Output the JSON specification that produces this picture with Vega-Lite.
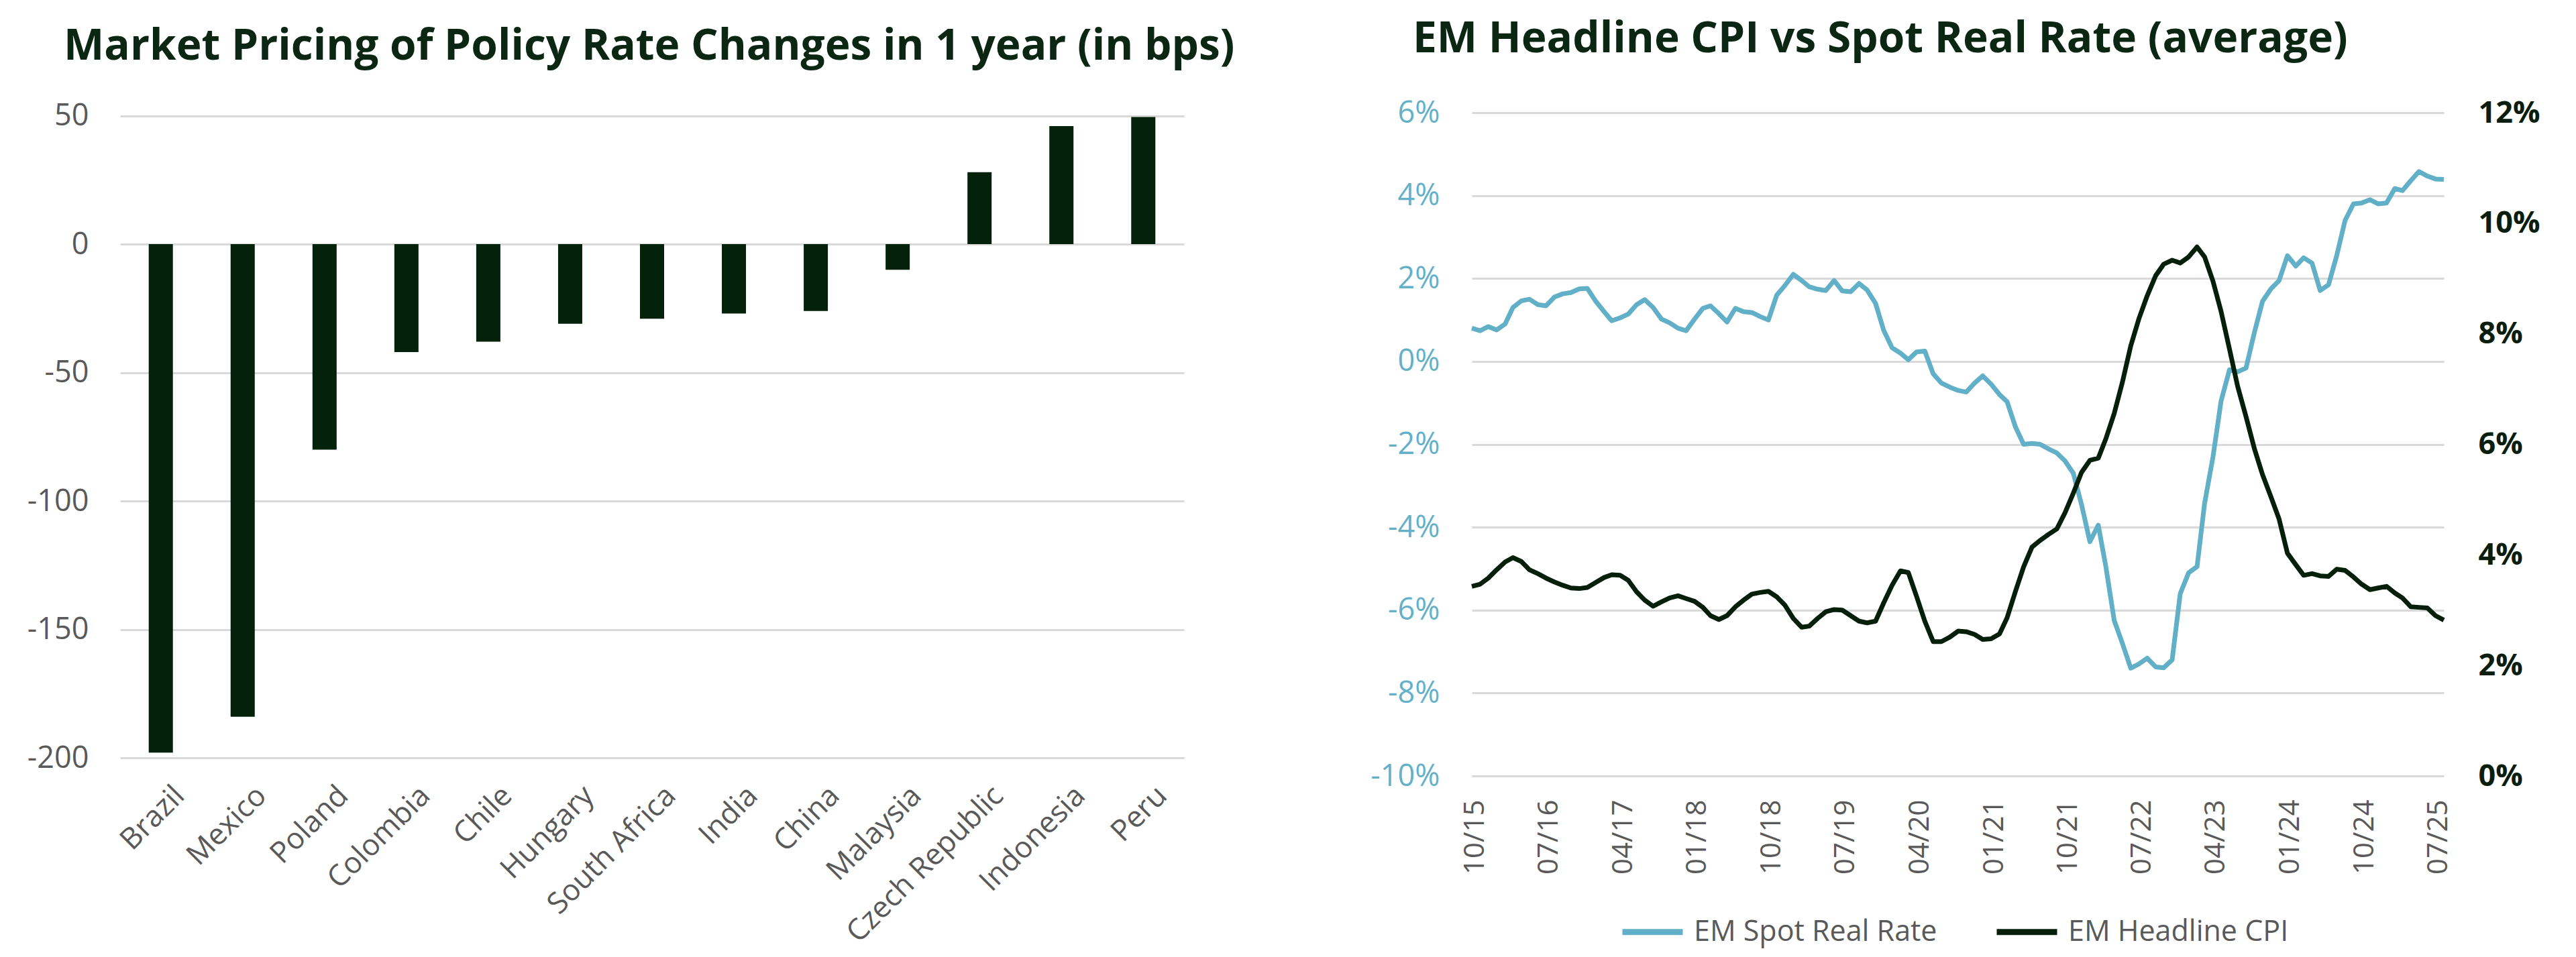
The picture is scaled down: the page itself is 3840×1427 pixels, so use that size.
{
  "$schema": "https://vega.github.io/schema/vega-lite/v6.json",
  "background": "white",
  "padding": {"left": 0, "top": 27, "right": 0, "bottom": 12},
  "bounds": "flush",
  "spacing": 429,
  "config": {
    "font": "Open Sans",
    "view": {"stroke": null},
    "axis": {"grid": false, "domain": false, "ticks": false, "labelFont": "Open Sans", "titleFont": "Open Sans"},
    "title": {"font": "Open Sans", "fontWeight": "bold", "fontSize": 64, "color": "#0b2612", "anchor": "start", "baseline": "alphabetic", "frame": "group"},
    "legend": {"labelFont": "Open Sans"}
  },
  "datasets": {
    "policy": [
      {"country": "Brazil", "bps": -198},
      {"country": "Mexico", "bps": -184},
      {"country": "Poland", "bps": -80},
      {"country": "Colombia", "bps": -42},
      {"country": "Chile", "bps": -38},
      {"country": "Hungary", "bps": -31},
      {"country": "South Africa", "bps": -29},
      {"country": "India", "bps": -27},
      {"country": "China", "bps": -26},
      {"country": "Malaysia", "bps": -10},
      {"country": "Czech Republic", "bps": 28},
      {"country": "Indonesia", "bps": 46},
      {"country": "Peru", "bps": 49.5}
    ],
    "em": [
      {"date": "2015-10-01", "real": 0.80, "cpi": 3.43},
      {"date": "2015-11-01", "real": 0.74, "cpi": 3.47},
      {"date": "2015-12-01", "real": 0.84, "cpi": 3.58},
      {"date": "2016-01-01", "real": 0.76, "cpi": 3.73},
      {"date": "2016-02-01", "real": 0.90, "cpi": 3.87},
      {"date": "2016-03-01", "real": 1.30, "cpi": 3.95},
      {"date": "2016-04-01", "real": 1.46, "cpi": 3.88},
      {"date": "2016-05-01", "real": 1.50, "cpi": 3.73},
      {"date": "2016-06-01", "real": 1.37, "cpi": 3.66},
      {"date": "2016-07-01", "real": 1.34, "cpi": 3.58},
      {"date": "2016-08-01", "real": 1.55, "cpi": 3.51},
      {"date": "2016-09-01", "real": 1.63, "cpi": 3.45},
      {"date": "2016-10-01", "real": 1.66, "cpi": 3.40},
      {"date": "2016-11-01", "real": 1.75, "cpi": 3.39},
      {"date": "2016-12-01", "real": 1.76, "cpi": 3.41},
      {"date": "2017-01-01", "real": 1.45, "cpi": 3.50},
      {"date": "2017-02-01", "real": 1.20, "cpi": 3.59},
      {"date": "2017-03-01", "real": 0.98, "cpi": 3.64},
      {"date": "2017-04-01", "real": 1.05, "cpi": 3.63},
      {"date": "2017-05-01", "real": 1.14, "cpi": 3.54},
      {"date": "2017-06-01", "real": 1.37, "cpi": 3.33},
      {"date": "2017-07-01", "real": 1.49, "cpi": 3.18},
      {"date": "2017-08-01", "real": 1.30, "cpi": 3.07},
      {"date": "2017-09-01", "real": 1.02, "cpi": 3.15},
      {"date": "2017-10-01", "real": 0.93, "cpi": 3.22},
      {"date": "2017-11-01", "real": 0.80, "cpi": 3.26},
      {"date": "2017-12-01", "real": 0.74, "cpi": 3.21},
      {"date": "2018-01-01", "real": 1.02, "cpi": 3.16},
      {"date": "2018-02-01", "real": 1.28, "cpi": 3.05},
      {"date": "2018-03-01", "real": 1.34, "cpi": 2.90},
      {"date": "2018-04-01", "real": 1.15, "cpi": 2.83},
      {"date": "2018-05-01", "real": 0.95, "cpi": 2.90},
      {"date": "2018-06-01", "real": 1.28, "cpi": 3.06},
      {"date": "2018-07-01", "real": 1.20, "cpi": 3.18},
      {"date": "2018-08-01", "real": 1.18, "cpi": 3.29},
      {"date": "2018-09-01", "real": 1.08, "cpi": 3.32},
      {"date": "2018-10-01", "real": 1.00, "cpi": 3.34},
      {"date": "2018-11-01", "real": 1.60, "cpi": 3.24},
      {"date": "2018-12-01", "real": 1.83, "cpi": 3.09},
      {"date": "2019-01-01", "real": 2.10, "cpi": 2.85},
      {"date": "2019-02-01", "real": 1.95, "cpi": 2.69},
      {"date": "2019-03-01", "real": 1.80, "cpi": 2.71},
      {"date": "2019-04-01", "real": 1.74, "cpi": 2.85},
      {"date": "2019-05-01", "real": 1.71, "cpi": 2.97},
      {"date": "2019-06-01", "real": 1.95, "cpi": 3.01},
      {"date": "2019-07-01", "real": 1.70, "cpi": 3.00},
      {"date": "2019-08-01", "real": 1.68, "cpi": 2.90},
      {"date": "2019-09-01", "real": 1.88, "cpi": 2.80},
      {"date": "2019-10-01", "real": 1.72, "cpi": 2.77},
      {"date": "2019-11-01", "real": 1.40, "cpi": 2.80},
      {"date": "2019-12-01", "real": 0.75, "cpi": 3.13},
      {"date": "2020-01-01", "real": 0.33, "cpi": 3.45},
      {"date": "2020-02-01", "real": 0.20, "cpi": 3.71},
      {"date": "2020-03-01", "real": 0.04, "cpi": 3.68},
      {"date": "2020-04-01", "real": 0.23, "cpi": 3.24},
      {"date": "2020-05-01", "real": 0.25, "cpi": 2.80},
      {"date": "2020-06-01", "real": -0.30, "cpi": 2.43},
      {"date": "2020-07-01", "real": -0.52, "cpi": 2.43},
      {"date": "2020-08-01", "real": -0.62, "cpi": 2.51},
      {"date": "2020-09-01", "real": -0.70, "cpi": 2.62},
      {"date": "2020-10-01", "real": -0.74, "cpi": 2.61},
      {"date": "2020-11-01", "real": -0.52, "cpi": 2.56},
      {"date": "2020-12-01", "real": -0.35, "cpi": 2.47},
      {"date": "2021-01-01", "real": -0.55, "cpi": 2.48},
      {"date": "2021-02-01", "real": -0.80, "cpi": 2.57},
      {"date": "2021-03-01", "real": -0.97, "cpi": 2.86},
      {"date": "2021-04-01", "real": -1.58, "cpi": 3.34},
      {"date": "2021-05-01", "real": -2.00, "cpi": 3.78},
      {"date": "2021-06-01", "real": -1.98, "cpi": 4.14},
      {"date": "2021-07-01", "real": -2.00, "cpi": 4.26},
      {"date": "2021-08-01", "real": -2.11, "cpi": 4.37},
      {"date": "2021-09-01", "real": -2.21, "cpi": 4.47},
      {"date": "2021-10-01", "real": -2.40, "cpi": 4.76},
      {"date": "2021-11-01", "real": -2.70, "cpi": 5.12},
      {"date": "2021-12-01", "real": -3.45, "cpi": 5.49},
      {"date": "2022-01-01", "real": -4.35, "cpi": 5.71},
      {"date": "2022-02-01", "real": -3.95, "cpi": 5.75},
      {"date": "2022-03-01", "real": -4.95, "cpi": 6.10},
      {"date": "2022-04-01", "real": -6.25, "cpi": 6.56},
      {"date": "2022-05-01", "real": -6.80, "cpi": 7.12},
      {"date": "2022-06-01", "real": -7.40, "cpi": 7.78},
      {"date": "2022-07-01", "real": -7.30, "cpi": 8.27},
      {"date": "2022-08-01", "real": -7.16, "cpi": 8.69},
      {"date": "2022-09-01", "real": -7.37, "cpi": 9.05},
      {"date": "2022-10-01", "real": -7.39, "cpi": 9.26},
      {"date": "2022-11-01", "real": -7.20, "cpi": 9.33},
      {"date": "2022-12-01", "real": -5.60, "cpi": 9.28},
      {"date": "2023-01-01", "real": -5.10, "cpi": 9.39},
      {"date": "2023-02-01", "real": -4.95, "cpi": 9.57},
      {"date": "2023-03-01", "real": -3.42, "cpi": 9.39},
      {"date": "2023-04-01", "real": -2.30, "cpi": 8.95},
      {"date": "2023-05-01", "real": -0.95, "cpi": 8.40},
      {"date": "2023-06-01", "real": -0.20, "cpi": 7.72},
      {"date": "2023-07-01", "real": -0.25, "cpi": 7.05},
      {"date": "2023-08-01", "real": -0.16, "cpi": 6.50},
      {"date": "2023-09-01", "real": 0.70, "cpi": 5.92},
      {"date": "2023-10-01", "real": 1.45, "cpi": 5.45},
      {"date": "2023-11-01", "real": 1.75, "cpi": 5.05},
      {"date": "2023-12-01", "real": 1.95, "cpi": 4.65},
      {"date": "2024-01-01", "real": 2.55, "cpi": 4.03},
      {"date": "2024-02-01", "real": 2.30, "cpi": 3.82},
      {"date": "2024-03-01", "real": 2.50, "cpi": 3.63},
      {"date": "2024-04-01", "real": 2.37, "cpi": 3.66},
      {"date": "2024-05-01", "real": 1.71, "cpi": 3.62},
      {"date": "2024-06-01", "real": 1.85, "cpi": 3.61},
      {"date": "2024-07-01", "real": 2.55, "cpi": 3.74},
      {"date": "2024-08-01", "real": 3.40, "cpi": 3.72},
      {"date": "2024-09-01", "real": 3.80, "cpi": 3.60},
      {"date": "2024-10-01", "real": 3.82, "cpi": 3.47},
      {"date": "2024-11-01", "real": 3.90, "cpi": 3.37},
      {"date": "2024-12-01", "real": 3.80, "cpi": 3.40},
      {"date": "2025-01-01", "real": 3.82, "cpi": 3.43},
      {"date": "2025-02-01", "real": 4.17, "cpi": 3.31},
      {"date": "2025-03-01", "real": 4.12, "cpi": 3.22},
      {"date": "2025-04-01", "real": 4.36, "cpi": 3.06},
      {"date": "2025-05-01", "real": 4.58, "cpi": 3.05},
      {"date": "2025-06-01", "real": 4.47, "cpi": 3.04},
      {"date": "2025-07-01", "real": 4.40, "cpi": 2.90},
      {"date": "2025-08-01", "real": 4.39, "cpi": 2.82}
    ]
  },
  "hconcat": [
    {
      "width": 1586,
      "height": 962,
      "title": {"text": "Market Pricing of Policy Rate Changes in 1 year (in bps)", "dx": -84, "offset": 49},
      "data": {"name": "policy"},
      "mark": {"type": "bar", "color": "#04210c"},
      "encoding": {
        "x": {
          "field": "country", "type": "nominal", "sort": null,
          "scale": {"paddingInner": 0.705, "paddingOuter": 0.35},
          "axis": {"title": null, "labelAngle": -45, "labelFontSize": 44, "labelColor": "#595959", "labelPadding": 34, "labelOffset": 13, "labelLimit": 700}
        },
        "y": {
          "field": "bps", "type": "quantitative",
          "scale": {"domain": [-200, 51.2], "nice": false},
          "axis": {"title": null, "values": [-200, -150, -100, -50, 0, 50], "grid": true, "gridColor": "#d9d9d9", "gridWidth": 3,
                   "labelFontSize": 45, "labelColor": "#595959", "labelPadding": 47, "minExtent": 179, "maxExtent": 179, "labelExpr": "'' + datum.value"}
        }
      }
    },
    {
      "width": 1449,
      "height": 989,
      "title": {"text": "EM Headline CPI vs Spot Real Rate (average)", "dx": -88, "offset": 55},
      "data": {"name": "em"},
      "layer": [
        {
          "mark": {"type": "line", "strokeWidth": 7, "strokeJoin": "round"},
          "encoding": {
            "x": {
              "field": "date", "type": "temporal",
              "scale": {"type": "utc", "domain": [{"year": 2015, "month": 10, "date": 1, "utc": true}, {"year": 2025, "month": 8, "date": 1, "utc": true}]},
              "axis": {
                "title": null, "format": "%m/%y", "labelAngle": -90, "labelFontSize": 42, "labelColor": "#595959", "labelPadding": 35, "labelOffset": 4,
                "values": [
                  {"year": 2015, "month": 10, "date": 1, "utc": true},
                  {"year": 2016, "month": 7, "date": 1, "utc": true},
                  {"year": 2017, "month": 4, "date": 1, "utc": true},
                  {"year": 2018, "month": 1, "date": 1, "utc": true},
                  {"year": 2018, "month": 10, "date": 1, "utc": true},
                  {"year": 2019, "month": 7, "date": 1, "utc": true},
                  {"year": 2020, "month": 4, "date": 1, "utc": true},
                  {"year": 2021, "month": 1, "date": 1, "utc": true},
                  {"year": 2021, "month": 10, "date": 1, "utc": true},
                  {"year": 2022, "month": 7, "date": 1, "utc": true},
                  {"year": 2023, "month": 4, "date": 1, "utc": true},
                  {"year": 2024, "month": 1, "date": 1, "utc": true},
                  {"year": 2024, "month": 10, "date": 1, "utc": true},
                  {"year": 2025, "month": 7, "date": 1, "utc": true}
                ]
              }
            },
            "y": {
              "field": "real", "type": "quantitative",
              "scale": {"domain": [-10, 6], "nice": false},
              "axis": {"title": null, "values": [-10, -8, -6, -4, -2, 0, 2, 4, 6], "grid": true, "gridColor": "#d9d9d9", "gridWidth": 3,
                       "labelFontSize": 45, "labelColor": "#64b0c8", "labelPadding": 48, "labelExpr": "datum.value + '%'"}
            },
            "color": {
              "datum": "EM Spot Real Rate",
              "scale": {"domain": ["EM Spot Real Rate", "EM Headline CPI"], "range": ["#62b0c7", "#061f0b"]},
              "legend": {"orient": "none", "legendX": 2235, "legendY": 1172, "direction": "horizontal", "title": null,
                         "symbolType": "stroke", "symbolStrokeWidth": 9, "symbolSize": 8100, "labelFontSize": 43, "labelColor": "#595959",
                         "labelLimit": 800, "labelOffset": 12, "columnPadding": 70}
            }
          }
        },
        {
          "mark": {"type": "line", "strokeWidth": 7, "strokeJoin": "round"},
          "encoding": {
            "x": {"field": "date", "type": "temporal"},
            "y": {
              "field": "cpi", "type": "quantitative",
              "scale": {"domain": [0, 12], "nice": false},
              "axis": {"title": null, "orient": "right", "values": [0, 2, 4, 6, 8, 10, 12], "grid": false,
                       "labelFontSize": 45, "labelFontWeight": "bold", "labelColor": "#0b1d0e", "labelPadding": 51, "labelExpr": "datum.value + '%'"}
            },
            "color": {"datum": "EM Headline CPI"}
          }
        }
      ],
      "resolve": {"scale": {"y": "independent"}}
    }
  ]
}
